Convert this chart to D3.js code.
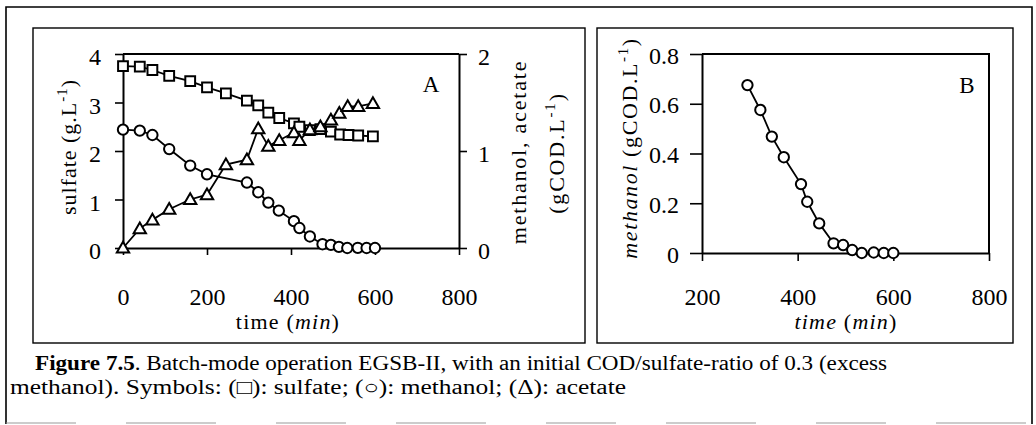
<!DOCTYPE html>
<html>
<head>
<meta charset="utf-8">
<script src="https://cdn.jsdelivr.net/npm/d3@7"></script>
<style>
  html, body { margin: 0; padding: 0; background: #fff; }
  svg { display: block; font-family: "Liberation Serif", "Times New Roman", serif; }
  .tick text { font-family: "Liberation Serif", serif; }
</style>
</head>
<body>
<svg id="fig" width="1036" height="425"></svg>
<script>
// Batch run EGSB-II: sulfate, methanol and acetate versus time
const sulfateTime = [0, 40, 70, 110, 160, 200, 245, 295, 322, 346, 372, 407, 420, 445, 470, 495, 517, 537, 560, 595];
const sulfate     = [3.75, 3.74, 3.67, 3.55, 3.44, 3.31, 3.19, 3.04, 2.94, 2.79, 2.68, 2.57, 2.50, 2.43, 2.45, 2.40, 2.34, 2.33, 2.32, 2.30];

const methanolTime = [0, 40, 70, 110, 160, 200, 295, 322, 346, 371, 407, 420, 445, 475, 495, 514, 534, 559, 580, 600];
const methanol     = [1.22, 1.21, 1.165, 1.02, 0.85, 0.76, 0.675, 0.575, 0.468, 0.385, 0.277, 0.206, 0.119, 0.039, 0.032, 0.012, 0.0, 0.002, 0.0, 0.0];

const acetateTime = [0, 40, 70, 110, 160, 200, 245, 295, 322, 346, 372, 407, 420, 445, 470, 495, 515, 535, 560, 595];
const acetate     = [0.0, 0.20, 0.29, 0.40, 0.50, 0.55, 0.86, 0.91, 1.23, 1.05, 1.11, 1.19, 1.11, 1.22, 1.25, 1.32, 1.39, 1.46, 1.46, 1.49];

// panel B shows the methanol decline from 300 min onward
const panelBStart = 290;

const ticksA = [0, 200, 400, 600, 800];
const ticksLeftA = [0, 1, 2, 3, 4];
const ticksRightA = [0, 1, 2];
const ticksB = [200, 400, 600, 800];
const ticksLeftB = [0, 0.2, 0.4, 0.6, 0.8];

const svg = d3.select("#fig");
const ink = "#000";

// ---- frames ----
// outer figure border
svg.append("path")
  .attr("d", "M6,424 L6,7 L1032,7 L1032,424")
  .attr("fill", "none").attr("stroke", ink).attr("stroke-width", 1.6);
svg.append("line")
  .attr("x1", 6).attr("x2", 1032).attr("y1", 423).attr("y2", 423)
  .attr("stroke", "#9a9a9a").attr("stroke-width", 1.2)
  .attr("stroke-dasharray", "70 50 90 60");

// panel boxes
svg.append("rect").attr("x", 33).attr("y", 28).attr("width", 552).attr("height", 315)
  .attr("fill", "none").attr("stroke", ink).attr("stroke-width", 1.4);
svg.append("rect").attr("x", 597).attr("y", 28).attr("width", 416).attr("height", 315)
  .attr("fill", "none").attr("stroke", ink).attr("stroke-width", 1.4);

// ---- scales ----
const xA = d3.scaleLinear().domain([0, 800]).range([123, 459]);
const yL = d3.scaleLinear().domain([0, 4]).range([248, 54]);
const yR = d3.scaleLinear().domain([0, 2]).range([248, 54]);

const xB = d3.scaleLinear().domain([200, 800]).range([702, 989]);
const yB = d3.scaleLinear().domain([0, 0.8]).range([253, 54]);

function styleAxis(g, size) {
  g.selectAll(".domain").attr("stroke", ink).attr("stroke-width", 2);
  g.selectAll(".tick line").attr("stroke", ink).attr("stroke-width", 1.6);
  g.selectAll(".tick text").attr("fill", ink).attr("font-size", size);
}

// ---- panel A axes ----
svg.append("g").attr("transform", `translate(0,${yL(0)})`)
  .call(d3.axisBottom(xA).tickValues(ticksA).tickSize(7).tickSizeOuter(0).tickPadding(33).tickFormat(d3.format("d")))
  .call(g => styleAxis(g, 24));

svg.append("g").attr("transform", `translate(${xA(0)},0)`)
  .call(d3.axisLeft(yL).tickValues(ticksLeftA).tickSize(8).tickSizeOuter(0).tickPadding(14).tickFormat(d3.format("d")))
  .call(g => styleAxis(g, 24))
  .call(g => g.selectAll(".tick text").attr("dy", "0.45em"));

svg.append("g").attr("transform", `translate(${xA(800)},0)`)
  .call(d3.axisRight(yR).tickValues(ticksRightA).tickSize(8).tickSizeOuter(0).tickPadding(11).tickFormat(d3.format("d")))
  .call(g => styleAxis(g, 24))
  .call(g => g.selectAll(".tick text").attr("dy", "0.45em"));

svg.append("line").attr("x1", xA(0)).attr("x2", xA(800)).attr("y1", yL(4)).attr("y2", yL(4))
  .attr("stroke", ink).attr("stroke-width", 2);

// ---- panel B axes ----
svg.append("g").attr("transform", `translate(0,${yB(0)})`)
  .call(d3.axisBottom(xB).tickValues(ticksB).tickSize(8).tickSizeOuter(0).tickPadding(27).tickFormat(d3.format("d")))
  .call(g => styleAxis(g, 24));

svg.append("g").attr("transform", `translate(${xB(200)},0)`)
  .call(d3.axisLeft(yB).tickValues(ticksLeftB).tickSize(12).tickSizeOuter(0).tickPadding(11)
    .tickFormat(d => d === 0 ? "0" : d3.format(".1f")(d)))
  .call(g => styleAxis(g, 24))
  .call(g => g.selectAll(".tick text").attr("dy", "0.38em"));

svg.append("path")
  .attr("d", `M${xB(200)},${yB(0.8)} L${xB(800)},${yB(0.8)} L${xB(800)},${yB(0)}`)
  .attr("fill", "none").attr("stroke", ink).attr("stroke-width", 2);

// ---- series ----
function zip(ts, vs) { return ts.map((t, i) => ({ t, v: vs[i] })); }

function drawLine(data, x, y) {
  svg.append("path").datum(data)
    .attr("fill", "none").attr("stroke", ink).attr("stroke-width", 1.8)
    .attr("d", d3.line().x(d => x(d.t)).y(d => y(d.v)));
}

function drawMarkers(data, x, y, shape) {
  const sym = {
    square: d3.symbol().type(d3.symbolSquare).size(96),
    circle: d3.symbol().type(d3.symbolCircle).size(84),
    triangle: d3.symbol().type(d3.symbolTriangle).size(66)
  }[shape];
  svg.append("g").selectAll("path").data(data).join("path")
    .attr("transform", d => `translate(${x(d.t)},${y(d.v) + (shape === "triangle" ? 1 : 0)})`)
    .attr("d", sym)
    .attr("fill", "#fff").attr("stroke", ink).attr("stroke-width", 2);
}

const sulData = zip(sulfateTime, sulfate);
const metData = zip(methanolTime, methanol);
const aceData = zip(acetateTime, acetate);

drawLine(sulData, xA, yL);
drawMarkers(sulData, xA, yL, "square");
drawLine(aceData, xA, yR);
drawMarkers(aceData, xA, yR, "triangle");
drawLine(metData, xA, yR);
drawMarkers(metData, xA, yR, "circle");

const metB = metData.filter(d => d.t >= panelBStart);
drawLine(metB, xB, yB);
drawMarkers(metB, xB, yB, "circle");

// ---- titles ----
// left title, panel A
const tL = svg.append("text").attr("transform", "translate(76,147) rotate(-90)")
  .attr("text-anchor", "middle").attr("font-size", 22).attr("letter-spacing", 1).attr("fill", ink);
tL.append("tspan").text("sulfate (g.L");
tL.append("tspan").attr("dy", -9).attr("font-size", 15).text("-1");
tL.append("tspan").attr("dy", 9).text(")");

// right title, panel A (two lines)
svg.append("text").attr("transform", "translate(526,152) rotate(-90)")
  .attr("text-anchor", "middle").attr("font-size", 22).attr("letter-spacing", 1.8).attr("fill", ink)
  .text("methanol, acetate");
const tR2 = svg.append("text").attr("transform", "translate(564,153) rotate(-90)")
  .attr("text-anchor", "middle").attr("font-size", 22).attr("letter-spacing", 1.8).attr("fill", ink);
tR2.append("tspan").text("(gCOD.L");
tR2.append("tspan").attr("dy", -9).attr("font-size", 15).text("-1");
tR2.append("tspan").attr("dy", 9).text(")");

// left title, panel B
const tB = svg.append("text").attr("transform", "translate(637,148) rotate(-90)")
  .attr("text-anchor", "middle").attr("font-size", 22).attr("letter-spacing", 1.6).attr("fill", ink);
tB.append("tspan").attr("font-style", "italic").text("methanol");
tB.append("tspan").text(" (gCOD.L");
tB.append("tspan").attr("dy", -9).attr("font-size", 15).text("-1");
tB.append("tspan").attr("dy", 9).text(")");

// x titles
const xtA = svg.append("text").attr("x", 288).attr("y", 329)
  .attr("text-anchor", "middle").attr("font-size", 22).attr("letter-spacing", 1.2).attr("fill", ink);
xtA.append("tspan").text("time (");
xtA.append("tspan").attr("font-style", "italic").text("min");
xtA.append("tspan").text(")");

const xtB = svg.append("text").attr("x", 846).attr("y", 329)
  .attr("text-anchor", "middle").attr("font-size", 22).attr("letter-spacing", 1.2).attr("fill", ink);
xtB.append("tspan").attr("font-style", "italic").text("time");
xtB.append("tspan").text(" (");
xtB.append("tspan").attr("font-style", "italic").text("min");
xtB.append("tspan").text(")");

// panel letters
svg.append("text").attr("x", 431).attr("y", 92).attr("text-anchor", "middle")
  .attr("font-size", 23).attr("fill", ink).text("A");
svg.append("text").attr("x", 967).attr("y", 93).attr("text-anchor", "middle")
  .attr("font-size", 23).attr("fill", ink).text("B");

// ---- caption (wide set, stretched to the printed line widths) ----
const cap1 = svg.append("text").attr("x", 35).attr("y", 370).attr("font-size", 20).attr("fill", ink)
  .attr("textLength", 852).attr("lengthAdjust", "spacingAndGlyphs");
cap1.append("tspan").attr("font-weight", "bold").text("Figure 7.5");
cap1.append("tspan").text(". Batch-mode operation EGSB-II, with an initial COD/sulfate-ratio of 0.3 (excess");

svg.append("text").attr("x", 10).attr("y", 394).attr("font-size", 20).attr("fill", ink)
  .attr("textLength", 616).attr("lengthAdjust", "spacingAndGlyphs")
  .text("methanol). Symbols: (\u25A1): sulfate; (\u25CB): methanol; (\u0394): acetate");
</script>
</body>
</html>
